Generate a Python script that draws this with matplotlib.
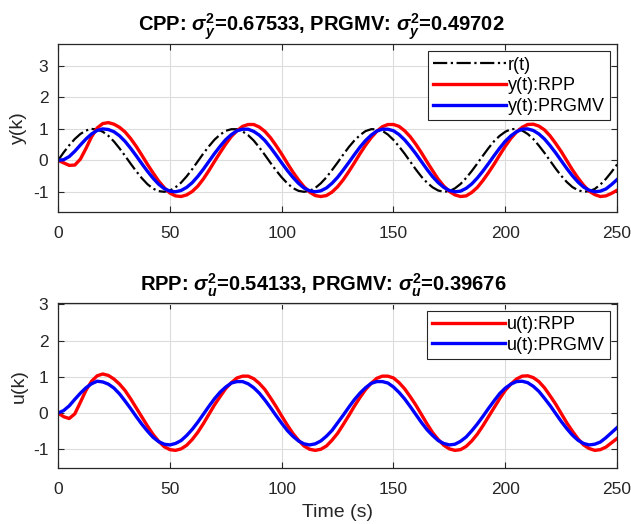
import matplotlib
matplotlib.use('Agg')
import matplotlib.pyplot as plt
import numpy as np

plt.rcParams['font.family'] = ['Liberation Sans', 'DejaVu Sans']
plt.rcParams['mathtext.fontset'] = 'custom'
plt.rcParams['mathtext.rm'] = 'Liberation Sans:bold'
plt.rcParams['mathtext.it'] = 'Liberation Sans:italic:bold'
plt.rcParams['mathtext.bf'] = 'Liberation Sans:bold'
plt.rcParams['axes.unicode_minus'] = False

# time samples, every 2.5 s
t = np.arange(0, 250.1, 2.5)

# reference r(t)
r_ref = [0.00, 0.25, 0.48, 0.68, 0.84, 0.95, 1.00, 0.98, 0.91, 0.78,
         0.60, 0.38, 0.14, -0.11, -0.35, -0.57, -0.76, -0.90, -0.98, -1.00,
         -0.96, -0.86, -0.71, -0.51, -0.28, -0.03, 0.22, 0.45, 0.66, 0.82,
         0.94, 0.99, 0.99, 0.92, 0.80, 0.63, 0.41, 0.17, -0.08, -0.32,
         -0.54, -0.73, -0.88, -0.97, -1.00, -0.97, -0.88, -0.73, -0.54, -0.31,
         -0.07, 0.18, 0.42, 0.63, 0.80, 0.93, 0.99, 0.99, 0.94, 0.82,
         0.65, 0.44, 0.21, -0.04, -0.29, -0.52, -0.71, -0.86, -0.96, -1.00,
         -0.98, -0.89, -0.75, -0.56, -0.34, -0.10, 0.15, 0.39, 0.61, 0.78,
         0.91, 0.99, 1.00, 0.95, 0.84, 0.68, 0.47, 0.24, -0.01, -0.26,
         -0.49, -0.69, -0.85, -0.95, -1.00, -0.98, -0.91, -0.77, -0.59, -0.37,
         -0.13]

# output y(t), RPP
y_rpp = [0.00, -0.08, -0.16, -0.15, 0.04, 0.38, 0.75, 1.03, 1.17, 1.20,
         1.15, 1.05, 0.90, 0.69, 0.44, 0.16, -0.13, -0.40, -0.66, -0.87,
         -1.04, -1.13, -1.15, -1.10, -0.99, -0.82, -0.59, -0.32, -0.03, 0.25,
         0.52, 0.76, 0.94, 1.08, 1.14, 1.14, 1.06, 0.92, 0.72, 0.47,
         0.20, -0.09, -0.37, -0.62, -0.84, -1.01, -1.12, -1.15, -1.12, -1.01,
         -0.84, -0.62, -0.36, -0.08, 0.21, 0.48, 0.72, 0.92, 1.07, 1.14,
         1.14, 1.08, 0.94, 0.75, 0.51, 0.24, -0.05, -0.33, -0.60, -0.82,
         -0.99, -1.10, -1.15, -1.13, -1.02, -0.86, -0.64, -0.39, -0.12, 0.17,
         0.45, 0.70, 0.90, 1.05, 1.14, 1.15, 1.09, 0.97, 0.78, 0.54,
         0.28, -0.01, -0.30, -0.56, -0.79, -0.98, -1.09, -1.15, -1.13, -1.05,
         -0.95]

# output y(t), PRGMV
y_prgmv = [0.00, 0.02, 0.12, 0.29, 0.49, 0.68, 0.84, 0.95, 1.00, 0.98,
           0.91, 0.78, 0.60, 0.38, 0.14, -0.11, -0.35, -0.57, -0.76, -0.90,
           -0.98, -1.00, -0.96, -0.86, -0.71, -0.51, -0.28, -0.03, 0.22, 0.45,
           0.66, 0.82, 0.94, 0.99, 0.99, 0.92, 0.80, 0.63, 0.41, 0.17,
           -0.08, -0.32, -0.54, -0.73, -0.88, -0.97, -1.00, -0.97, -0.88, -0.73,
           -0.54, -0.31, -0.07, 0.18, 0.42, 0.63, 0.80, 0.93, 0.99, 0.99,
           0.94, 0.82, 0.65, 0.44, 0.21, -0.04, -0.29, -0.52, -0.71, -0.86,
           -0.96, -1.00, -0.98, -0.89, -0.75, -0.56, -0.34, -0.10, 0.15, 0.39,
           0.61, 0.78, 0.91, 0.99, 1.00, 0.95, 0.84, 0.68, 0.47, 0.24,
           -0.01, -0.26, -0.49, -0.69, -0.85, -0.95, -1.00, -0.98, -0.91, -0.77,
           -0.61]

# control u(t), RPP
u_rpp = [0.00, -0.10, -0.15, -0.02, 0.30, 0.63, 0.88, 1.03, 1.08, 1.04,
         0.94, 0.80, 0.62, 0.39, 0.14, -0.11, -0.36, -0.59, -0.78, -0.93,
         -1.01, -1.03, -0.99, -0.89, -0.73, -0.53, -0.29, -0.03, 0.23, 0.46,
         0.68, 0.84, 0.97, 1.02, 1.02, 0.95, 0.82, 0.65, 0.42, 0.18,
         -0.08, -0.33, -0.56, -0.75, -0.91, -1.00, -1.03, -1.00, -0.91, -0.75,
         -0.56, -0.32, -0.07, 0.19, 0.43, 0.65, 0.82, 0.96, 1.02, 1.02,
         0.97, 0.84, 0.67, 0.45, 0.22, -0.04, -0.30, -0.54, -0.73, -0.89,
         -0.99, -1.03, -1.01, -0.92, -0.77, -0.58, -0.35, -0.10, 0.15, 0.40,
         0.63, 0.80, 0.94, 1.02, 1.03, 0.98, 0.87, 0.70, 0.48, 0.25,
         -0.01, -0.27, -0.50, -0.71, -0.88, -0.98, -1.03, -1.01, -0.94, -0.82,
         -0.70]

# control u(t), PRGMV
u_prgmv = [0.00, 0.07, 0.20, 0.38, 0.55, 0.70, 0.81, 0.88, 0.86, 0.80,
           0.69, 0.53, 0.33, 0.12, -0.10, -0.31, -0.50, -0.67, -0.79, -0.86,
           -0.88, -0.84, -0.76, -0.62, -0.45, -0.25, -0.03, 0.19, 0.40, 0.58,
           0.72, 0.83, 0.87, 0.87, 0.81, 0.70, 0.55, 0.36, 0.15, -0.07,
           -0.28, -0.48, -0.64, -0.77, -0.85, -0.88, -0.85, -0.77, -0.64, -0.48,
           -0.27, -0.06, 0.16, 0.37, 0.55, 0.70, 0.82, 0.87, 0.87, 0.83,
           0.72, 0.57, 0.39, 0.18, -0.04, -0.26, -0.46, -0.62, -0.76, -0.84,
           -0.88, -0.86, -0.78, -0.66, -0.49, -0.30, -0.09, 0.13, 0.34, 0.54,
           0.69, 0.80, 0.87, 0.88, 0.84, 0.74, 0.60, 0.41, 0.21, -0.01,
           -0.23, -0.43, -0.61, -0.75, -0.84, -0.88, -0.86, -0.80, -0.68, -0.54,
           -0.40]

xticks = [0, 50, 100, 150, 200, 250]
yticks = [-1, 0, 1, 2, 3]

title_top = r'CPP: $\sigma_y^2$=0.67533, PRGMV: $\sigma_y^2$=0.49702'
title_bot = r'RPP: $\sigma_u^2$=0.54133, PRGMV: $\sigma_u^2$=0.39676'

dark = '#262626'


def style_axes(ax, ylim):
    ax.set_xlim(0, 250)
    ax.set_ylim(*ylim)
    ax.set_xticks(xticks)
    ax.set_yticks(yticks)
    ax.grid(True, color='#dcdcdc', linewidth=0.8)
    ax.set_axisbelow(True)
    ax.tick_params(direction='in', top=True, right=True, labelsize=12.5,
                   colors=dark, length=4, width=0.8, pad=7)
    ax.tick_params(axis='x', pad=10)
    for s in ax.spines.values():
        s.set_color(dark)
        s.set_linewidth(0.9)


fig = plt.figure(figsize=(6.31, 5.24), dpi=100)
ax1 = fig.add_axes([0.092, 0.595, 0.886, 0.321])
ax2 = fig.add_axes([0.092, 0.106, 0.886, 0.315])

ax1.plot(t, r_ref, color='black', linestyle='-.', linewidth=1.6, label='r(t)')
ax1.plot(t, y_rpp, color='red', linewidth=2.4, label='y(t):RPP')
ax1.plot(t, y_prgmv, color='blue', linewidth=2.4, label='y(t):PRGMV')
style_axes(ax1, (-1.65, 3.7))
ax1.set_ylabel('y(k)', fontsize=14, color=dark, labelpad=4)
ax1.set_title(title_top, fontsize=14.5, fontweight='bold', pad=9, x=0.47)

ax2.plot(t, u_rpp, color='red', linewidth=2.4, label='u(t):RPP')
ax2.plot(t, u_prgmv, color='blue', linewidth=2.4, label='u(t):PRGMV')
style_axes(ax2, (-1.53, 3.03))
ax2.set_ylabel('u(k)', fontsize=14, color=dark, labelpad=4)
ax2.set_xlabel('Time (s)', fontsize=14, color=dark, labelpad=5)
ax2.set_title(title_bot, fontsize=14.5, fontweight='bold', pad=9, x=0.475)

for ax in (ax1, ax2):
    leg = ax.legend(loc='upper right', fontsize=13, handlelength=4.0,
                    handletextpad=0.1, borderpad=0.3, labelspacing=0.2,
                    fancybox=False, framealpha=1, borderaxespad=0.4)
    leg.get_frame().set_edgecolor(dark)
    leg.get_frame().set_linewidth(0.8)

fig.savefig('out.png', dpi=100)
